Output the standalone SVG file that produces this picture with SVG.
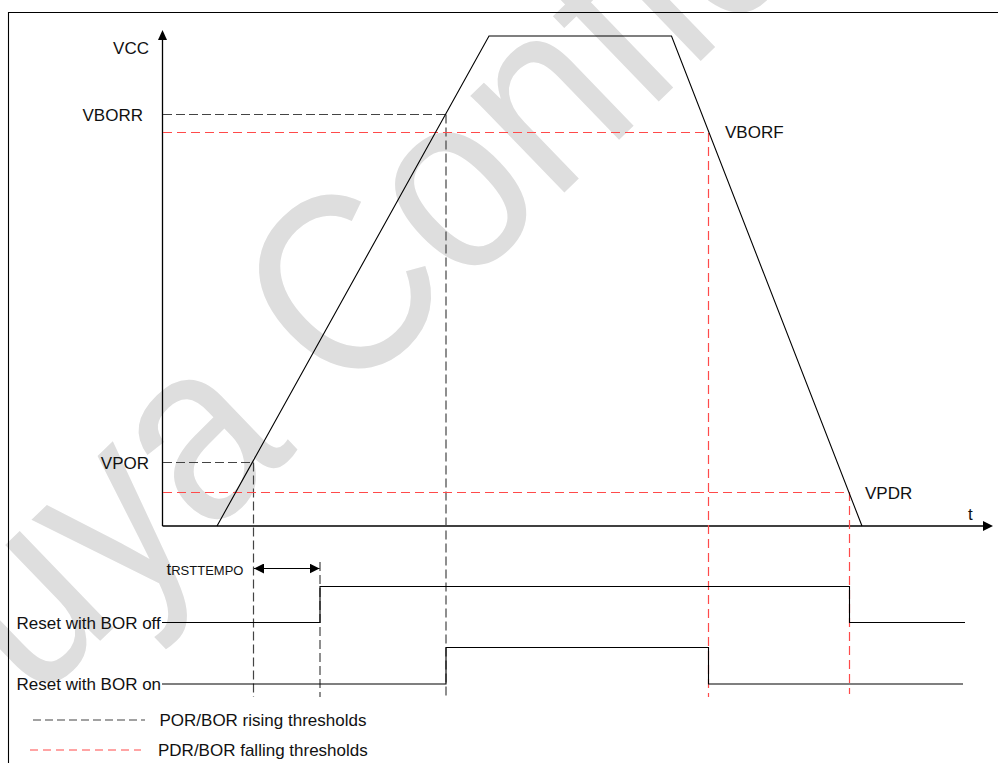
<svg xmlns="http://www.w3.org/2000/svg" width="998" height="763" viewBox="0 0 998 763">
<defs>
<style>
text{font-family:"Liberation Sans",Arial,sans-serif;font-size:17px;fill:#111}
.ln{fill:none;stroke:#000;stroke-width:1.1}
.ax{fill:none;stroke:#000;stroke-width:1.3}
.gd{fill:none;stroke:#444;stroke-width:1.2;stroke-dasharray:9 4}
.rd{fill:none;stroke:#ff4a4a;stroke-width:1.2;stroke-dasharray:9 5}
.wm{font-size:228px;fill:#dedede}
</style>
<marker id="ah" viewBox="0 0 10 10" refX="10" refY="5" markerWidth="10" markerHeight="10" markerUnits="userSpaceOnUse" orient="auto-start-reverse">
<path d="M0,0 L10,5 L0,10 Z" fill="#000"/>
</marker>
</defs>
<rect width="998" height="763" fill="#fff"/>
<g id="watermark">
<text class="wm" transform="translate(-60.6,796.2) rotate(-44) scale(1,1.12)">Tuya Confidential</text>
</g>
<g id="frame"><path class="ln" d="M8.5,763 V12.5 H998"/></g>
<g id="axes">
<path class="ax" d="M162.5,526 V40" />
<path d="M162.5,30 L158,40 L167,40 Z" fill="#000"/>
<path class="ax" d="M162.5,526 H983" />
<path d="M993,526 L983,521 L983,531 Z" fill="#000"/>
<text x="149" y="54" text-anchor="end">VCC</text>
<text x="968" y="520">t</text>
</g>
<g id="connectors">
<path class="gd" d="M163,114.5 H446"/>
<path class="gd" d="M446,114.5 V697"/>
<path class="gd" d="M163,462.5 H253.5"/>
<path class="gd" d="M253.5,462.5 V697"/>
<path class="gd" d="M320,562 V697"/>
<path class="rd" d="M163,132.5 H708.5 V697"/>
<path class="rd" d="M163,492.5 H849.5 V694"/>
<path class="ln" d="M254,568.5 H319.5" marker-start="url(#ah)" marker-end="url(#ah)"/>
</g>
<g id="vcc-curve"><path class="ln" d="M217,526 L489,36 L671.5,36 L862,526"/></g>
<g id="label-vborr"><text x="143" y="120.5" text-anchor="end">VBORR</text></g>
<g id="label-vborf"><text x="725" y="138">VBORF</text></g>
<g id="label-vpor"><text x="149" y="469" text-anchor="end">VPOR</text></g>
<g id="label-vpdr"><text x="865" y="499">VPDR</text></g>
<g id="label-trst"><text x="166.5" y="575">t<tspan style="font-size:13px">RSTTEMPO</tspan></text></g>
<g id="signal-bor-off">
<text x="16.5" y="629">Reset with BOR off</text>
<path class="ln" d="M162,622.5 H320 V586.5 H849.5 V622.5 H965"/>
</g>
<g id="signal-bor-on">
<text x="16.5" y="689.5">Reset with BOR on</text>
<path class="ln" d="M162,684 H446 V647.5 H708.5 V684 H963"/>
</g>
<g id="legend">
<path class="gd" d="M33,720 H145" style="stroke-dasharray:8 4"/>
<text x="159.5" y="726">POR/BOR rising thresholds</text>
<path class="rd" d="M30,750 H141" style="stroke-dasharray:8 5"/>
<text x="158" y="756">PDR/BOR falling thresholds</text>
</g>
</svg>
